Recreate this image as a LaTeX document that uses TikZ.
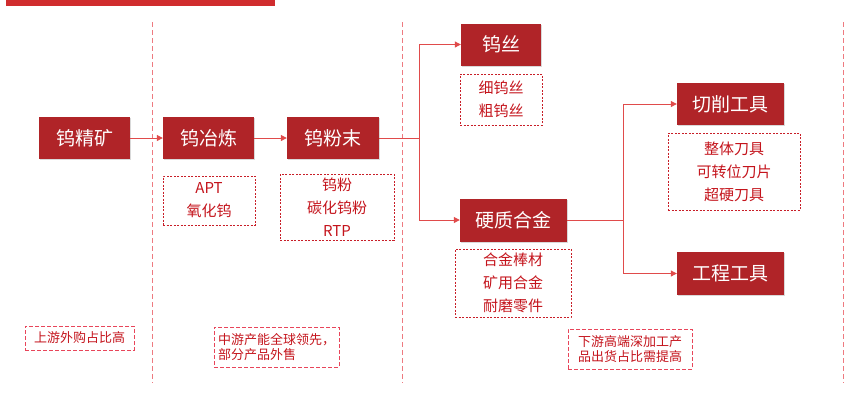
\documentclass[tikz,border=0pt]{standalone}
\usepackage{fontspec}
\setmainfont{Noto Sans CJK SC}
\usetikzlibrary{shadows,arrows.meta}
\definecolor{boxred}{HTML}{B02428}
\definecolor{barred}{HTML}{D02C2E}
\definecolor{linered}{HTML}{E04B4B}
\definecolor{txtred}{HTML}{C4141C}
\definecolor{dashred}{HTML}{C81E28}
\definecolor{notered}{HTML}{E8455A}
\definecolor{vred}{HTML}{EE7A80}
\begin{document}
\begin{tikzpicture}[x=1pt,y=-1pt,
  mainbox/.style={fill=boxred, text=white, inner sep=0pt,
    font=\fontsize{19}{22}\selectfont,
    drop shadow={opacity=0.3, shadow xshift=1.2pt, shadow yshift=-1.2pt}},
  subbox/.style={draw=dashred, line width=0.8pt, dash pattern=on 2pt off 1.5pt,
    text=txtred, inner sep=0pt, align=center, font=\fontsize{15}{23}\selectfont},
  notebox/.style={draw=notered, line width=1pt, dash pattern=on 4pt off 2pt,
    text=txtred, inner sep=0pt, align=left, font=\fontsize{13}{15.5}\selectfont},
  vline/.style={draw=vred, line width=1pt, dash pattern=on 5pt off 3pt},
  conn/.style={draw=linered, line width=1pt},
  arr/.style={conn, -{Triangle[length=6pt,width=6pt]}}]
\useasboundingbox (0,0) rectangle (861,397);
\fill[barred] (6,0) rectangle (275,5.5);
% vertical dashed separators
\draw[vline] (152,22) -- (152,383);
\draw[vline] (402,22) -- (402,383);
\draw[vline] (843,22) -- (843,383);
% main boxes
\node[mainbox, minimum width=91pt, minimum height=42pt] (b1) at (84.5,138) {钨精矿};
\node[mainbox, minimum width=91pt, minimum height=42pt] (b2) at (208.5,138) {钨冶炼};
\node[mainbox, minimum width=92pt, minimum height=42pt] (b3) at (333,138) {钨粉末};
\node[mainbox, minimum width=80pt, minimum height=42pt] (b4) at (501,44.5) {钨丝};
\node[mainbox, minimum width=107pt, minimum height=43pt] (b5) at (513.5,220) {硬质合金};
\node[mainbox, minimum width=107pt, minimum height=42pt] (b6) at (730.5,104) {切削工具};
\node[mainbox, minimum width=107pt, minimum height=43pt] (b7) at (730.5,273.5) {工程工具};
% sub boxes
\node[subbox, minimum width=92pt, minimum height=49pt] (d1) at (209,200.5) {APT\\氧化钨};
\node[subbox, minimum width=114pt, minimum height=66pt] (d2) at (337,207) {钨粉\\碳化钨粉\\RTP};
\node[subbox, minimum width=82pt, minimum height=51pt] (d3) at (501,99.5) {细钨丝\\粗钨丝};
\node[subbox, minimum width=132pt, minimum height=77pt] (d4) at (734,171.5) {整体刀具\\可转位刀片\\超硬刀具};
\node[subbox, minimum width=116pt, minimum height=68pt] (d5) at (513,283) {合金棒材\\矿用合金\\耐磨零件};
% notes
\node[notebox, minimum width=109pt, minimum height=24pt, align=center] (n1) at (79.5,338) {上游外购占比高};
\node[notebox, minimum width=125pt, minimum height=40pt] (n2) at (276.5,347) {中游产能全球领先，\\部分产品外售};
\node[notebox, minimum width=124pt, minimum height=40pt] (n3) at (630,349) {下游高端深加工产\\品出货占比需提高};
% connectors
\coordinate (j1) at (419,138);
\coordinate (j2) at (623,220);
\draw[arr] (b1) -- (b2);
\draw[arr] (b2) -- (b3);
\draw[conn] (b3) -- (j1);
\draw[arr] (j1) |- (b4);
\draw[arr] (j1) |- (b5);
\draw[conn] (b5) -- (j2);
\draw[arr] (j2) |- (b6);
\draw[arr] (j2) |- (b7);
\end{tikzpicture}
\end{document}
